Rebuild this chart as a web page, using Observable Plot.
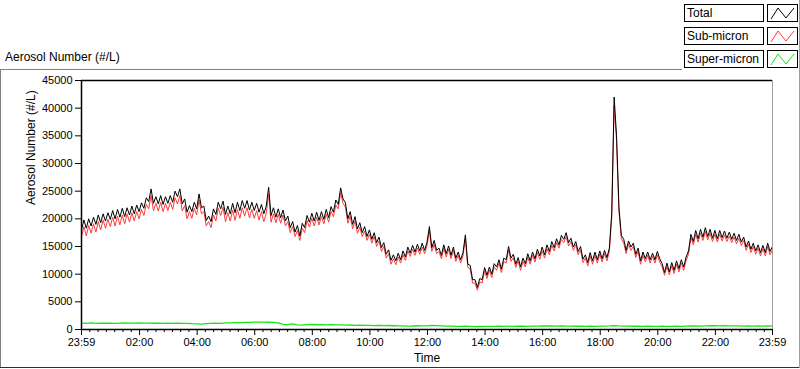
<!DOCTYPE html>
<html>
<head>
<meta charset="utf-8">
<script src="https://cdn.jsdelivr.net/npm/d3@7"></script>
<script src="https://cdn.jsdelivr.net/npm/@observablehq/plot@0.6"></script>
<style>
  html, body { margin: 0; padding: 0; background: #fff; }
  #wrap { position: relative; width: 800px; height: 369px; overflow: hidden; font-family: "Liberation Sans", Arial, sans-serif; }
  #chart { position: absolute; left: 0; top: 0; }
  .title { position: absolute; left: 5px; top: 50px; font-size: 12px; color: #000; white-space: nowrap; }
  .lgtext { position: absolute; left: 684px; width: 76px; height: 16px; border: 1px solid #000; background: #fff; font-size: 12px; line-height: 16px; padding-left: 2px; box-sizing: content-box; white-space: nowrap; }
  .lgsw { position: absolute; left: 767px; width: 29px; height: 16px; border: 1px solid #000; background: #fff; }
  .lgsw svg { display: block; }
  .panel-left { position: absolute; left: 0; top: 69px; width: 1px; height: 299px; background: #808080; }
  .panel-top { position: absolute; left: 0; top: 69px; width: 682px; height: 1px; background: #808080; }
  .panel-bottom { position: absolute; left: 0; top: 367px; width: 800px; height: 1px; background: #303030; }
  .panel-right { position: absolute; left: 799px; top: 0; width: 1px; height: 368px; background: #a0a0a0; }
</style>
</head>
<body>
<div id="wrap">
  <div class="panel-left"></div>
  <div class="panel-top"></div>
  <div class="panel-bottom"></div>
  <div class="panel-right"></div>
  <div id="chart"></div>
  <div class="title">Aerosol Number (#/L)</div>
  <div id="legend"></div>
</div>
<script>
// ---- Data ----
// Series start at 23:59 and run 24 hours.
const totalStepMinutes = 5;   // Total and Sub-micron sampled every 5 minutes
const superStepMinutes = 10;  // Super-micron sampled every 10 minutes

const totalValues = [
  18000, 19800, 18300, 20000, 18700, 20300, 19000, 20700, 19300, 20900, 19600, 21100,
  19900, 21500, 20000, 21700, 20300, 21900, 20400, 22000, 20700, 22300, 20900, 22500,
  21300, 22900, 21900, 23800, 23100, 25400, 22800, 24000, 22700, 24200, 22600, 24000,
  22800, 24200, 23000, 25000, 24000, 25400, 22700, 23600, 21200, 22400, 21300, 23000,
  21800, 24500, 22000, 22300, 19700, 20500, 19500, 21800, 20800, 23000, 21800, 23200,
  20800, 22300, 20900, 22800, 21100, 23000, 21500, 23300, 21900, 23300, 21600, 23000,
  21500, 22800, 21200, 22600, 20900, 22300, 25700, 20600, 22000, 20300, 21800, 20200,
  21600, 19600, 20500, 18400, 19500, 17600, 18800, 16900, 19200, 18400, 20600, 19400,
  21000, 19600, 21200, 19700, 21300, 19900, 21700, 20200, 22200, 21200, 23400, 22600,
  25600, 23600, 22900, 20000, 21300, 19000, 20400, 18200, 19300, 17500, 18600, 16800,
  18000, 16300, 17500, 15700, 16700, 14800, 15700, 13600, 14400, 12500, 13500, 12400,
  13800, 12600, 14200, 13100, 14900, 13800, 15200, 14000, 15400, 14200, 15600, 14300,
  15800, 18600, 14800, 16100, 14300, 14700, 13400, 15300, 13700, 15100, 13400, 14900,
  12900, 14000, 12600, 13900, 17100, 11800, 11600, 9000, 9000, 7600, 9200, 9000,
  11200, 9800, 11300, 10000, 11900, 11300, 12600, 10900, 12900, 12600, 15000, 12900,
  13600, 11800, 13000, 11300, 12900, 11900, 13700, 12400, 14000, 12800, 14500, 13300,
  14900, 13500, 15300, 14100, 15900, 14800, 16400, 15300, 17000, 16300, 17500, 15700,
  16500, 14900, 15900, 14100, 15000, 12700, 13500, 12100, 13900, 12400, 14000, 12600,
  14200, 12800, 14300, 13000, 14700, 21000, 42000, 35000, 22000, 17000, 16300, 14300,
  16000, 14900, 15600, 13600, 14700, 12400, 14000, 12800, 14000, 12600, 13800, 12600,
  14100, 12800, 11900, 10300, 12000, 10400, 12100, 10700, 12400, 11000, 12600, 11300,
  13100, 14200, 17200, 15900, 17900, 16400, 18100, 16700, 18400, 16800, 18100, 16500,
  17900, 16400, 17900, 16600, 17800, 16500, 17600, 16300, 17400, 16100, 17200, 15800,
  16700, 14900, 16000, 14500, 15600, 14200, 15300, 13900, 15200, 13900, 15600, 14100,
  15000
];

const subValues = [
  16700, 18600, 16900, 18800, 17400, 19100, 17600, 19500, 18000, 19800, 18300, 19900,
  18600, 20300, 18700, 20500, 18900, 20700, 19100, 20900, 19400, 21100, 19600, 21300,
  20000, 21700, 20600, 22600, 21800, 24200, 21500, 22800, 21400, 23000, 21300, 22800,
  21500, 23000, 21700, 23800, 22700, 24200, 21400, 22400, 20000, 21300, 20100, 21900,
  20700, 23400, 20900, 21300, 18700, 19500, 18400, 20700, 19600, 21900, 20600, 22100,
  19500, 21100, 19600, 21600, 19700, 21700, 20100, 22000, 20500, 22000, 20200, 21700,
  20100, 21500, 19800, 21300, 19500, 21000, 24500, 19400, 20900, 19300, 20800, 19200,
  20700, 18700, 19500, 17500, 18600, 16800, 17900, 16100, 18300, 17500, 19700, 18500,
  20100, 18700, 20300, 18900, 20400, 19100, 20800, 19400, 21300, 20400, 22500, 21800,
  24700, 22800, 22100, 19200, 20500, 18200, 19600, 17400, 18500, 16800, 17800, 16100,
  17200, 15600, 16800, 15000, 16000, 14100, 15000, 12900, 13700, 11800, 12800, 11700,
  13100, 12000, 13500, 12500, 14200, 13200, 14500, 13400, 14700, 13600, 14900, 13700,
  15100, 17900, 14100, 15400, 13700, 14100, 12800, 14700, 13100, 14500, 12800, 14300,
  12300, 13400, 12000, 13300, 16400, 11200, 11000, 8400, 8400, 7100, 8600, 8400,
  10600, 9200, 10700, 9400, 11300, 10700, 12000, 10300, 12300, 12000, 14400, 12300,
  13000, 11200, 12400, 10700, 12300, 11300, 13100, 11800, 13400, 12200, 13900, 12700,
  14200, 12900, 14600, 13500, 15200, 14200, 15700, 14700, 16300, 15700, 16800, 15100,
  15900, 14300, 15300, 13500, 14400, 12100, 12900, 11500, 13300, 11800, 13400, 12000,
  13600, 12200, 13700, 12400, 14100, 20300, 40500, 34200, 21400, 16400, 15600, 13700,
  15400, 14300, 15000, 13000, 14100, 11800, 13400, 12200, 13400, 12000, 13200, 12000,
  13500, 12200, 11300, 9800, 11400, 9900, 11500, 10100, 11800, 10400, 12000, 10700,
  12500, 13600, 16600, 15300, 17200, 15800, 17400, 16100, 17700, 16200, 17400, 15900,
  17200, 15800, 17200, 16000, 17100, 15900, 16900, 15700, 16700, 15500, 16500, 15200,
  16100, 14300, 15400, 13900, 15000, 13600, 14700, 13300, 14600, 13300, 15000, 13500,
  14400
];

const superValues = [
  1150, 1100, 1180, 1120, 1160, 1130,
  1170, 1120, 1150, 1190, 1140, 1160,
  1180, 1140, 1170, 1130, 1160, 1120,
  1150, 1110, 1130, 1090, 1120, 1060,
  1020, 960, 1050, 1110, 1150, 1120,
  1180, 1210, 1250, 1230, 1280, 1300,
  1320, 1350, 1330, 1310, 1280, 1200,
  920, 880, 1000, 850, 800, 870,
  900, 860, 880, 840, 870, 820,
  830, 790, 810, 760, 780, 740,
  750, 710, 730, 690, 720, 680,
  640, 660, 610, 630, 680, 650,
  660, 720, 690, 650, 600, 620,
  580, 560, 590, 550, 520, 540,
  560, 580, 550, 590, 570, 600,
  580, 610, 590, 570, 600, 620,
  650, 630, 660, 620, 640, 600,
  610, 590, 620, 580, 600, 570,
  600, 620, 650, 700, 640, 610,
  620, 590, 610, 580, 600, 570,
  560, 590, 570, 550, 600, 580,
  610, 630, 650, 620, 660, 690,
  680, 650, 700, 670, 640, 660,
  620, 650, 600, 640, 610, 630,
  620
];

const seriesNames = ["Total", "Sub-micron", "Super-micron"];
const seriesColors = ["#000000", "#ff3b3b", "#14e614"];
const yTicks = [0, 5000, 10000, 15000, 20000, 25000, 30000, 35000, 40000, 45000];
const xTickHours = [2, 4, 6, 8, 10, 12, 14, 16, 18, 20, 22]; // plus 23:59 at both ends
const yTitle = "Aerosol Number (#/L)";
const xTitle = "Time";

// ---- Build ----
const MIN = 60000;
const t0 = Date.UTC(2000, 0, 1, 23, 59);
const t1 = t0 + 24 * 60 * MIN;
const rows = (vals, step) => vals.map((v, i) => ({t: new Date(t0 + i * step * MIN), v}));
const totalRows = rows(totalValues, totalStepMinutes);
const subRows = rows(subValues, totalStepMinutes);
const superRows = rows(superValues, superStepMinutes);

const majorTicks = [new Date(t0), ...xTickHours.map(h => new Date(Date.UTC(2000, 0, 2, h, 0))), new Date(t1)];
const minorTicks = [];
for (let i = 0; i < majorTicks.length - 1; i++) {
  const a = +majorTicks[i], b = +majorTicks[i + 1];
  for (let k = 1; k < 7; k++) minorTicks.push(new Date(a + (b - a) * k / 7));
}
const fmt = d3.utcFormat("%H:%M");

const chart = Plot.plot({
  width: 800,
  height: 369,
  marginLeft: 81,
  marginRight: 28,
  marginTop: 80,
  marginBottom: 40,
  style: {fontFamily: "Liberation Sans, Arial, sans-serif", fontSize: "11px", background: "transparent", color: "#000", overflow: "visible"},
  x: {type: "utc", domain: [new Date(t0), new Date(t1)]},
  y: {domain: [0, 45000]},
  marks: [
    Plot.line(superRows, {x: "t", y: "v", stroke: seriesColors[2], strokeWidth: 1.3}),
    Plot.line(subRows, {x: "t", y: "v", stroke: seriesColors[1], strokeWidth: 1}),
    Plot.line(totalRows, {x: "t", y: "v", stroke: seriesColors[0], strokeWidth: 1}),
    Plot.ruleX([new Date(t1)], {stroke: "#a0a0a0"}),
    Plot.ruleY([45000], {stroke: "#000", strokeWidth: 1.5}),
    Plot.ruleX([new Date(t0)], {stroke: "#000", strokeWidth: 1.5}),
    Plot.ruleY([0], {stroke: "#000", strokeWidth: 1.5}),
    Plot.axisY({ticks: yTicks, tickSize: 6, tickPadding: 3, tickFormat: d => String(d), label: null, stroke: "#000"}),
    Plot.axisX({ticks: majorTicks, tickSize: 6, tickPadding: 3, tickFormat: fmt, label: null, stroke: "#000"}),
    Plot.axisX({ticks: minorTicks, tickSize: 3, tickFormat: () => "", label: null, stroke: "#000"}),
    Plot.text([yTitle], {frameAnchor: "left", rotate: -90, dx: -50, fontSize: 12, fill: "#000"}),
    Plot.text([xTitle], {frameAnchor: "bottom", dy: 32, fontSize: 12, fill: "#000"})
  ]
});
document.getElementById("chart").appendChild(chart);

// ---- Legend ----
const legend = document.getElementById("legend");
const tops = [4, 27, 50];
seriesNames.forEach((name, i) => {
  const t = document.createElement("div");
  t.className = "lgtext";
  t.style.top = tops[i] + "px";
  t.textContent = name;
  legend.appendChild(t);
  const s = document.createElement("div");
  s.className = "lgsw";
  s.style.top = tops[i] + "px";
  s.innerHTML = `<svg width="29" height="16"><polyline points="3,14 10,3 18,13 26,3" fill="none" stroke="${seriesColors[i]}" stroke-width="1"/></svg>`;
  legend.appendChild(s);
});
</script>
</body>
</html>
